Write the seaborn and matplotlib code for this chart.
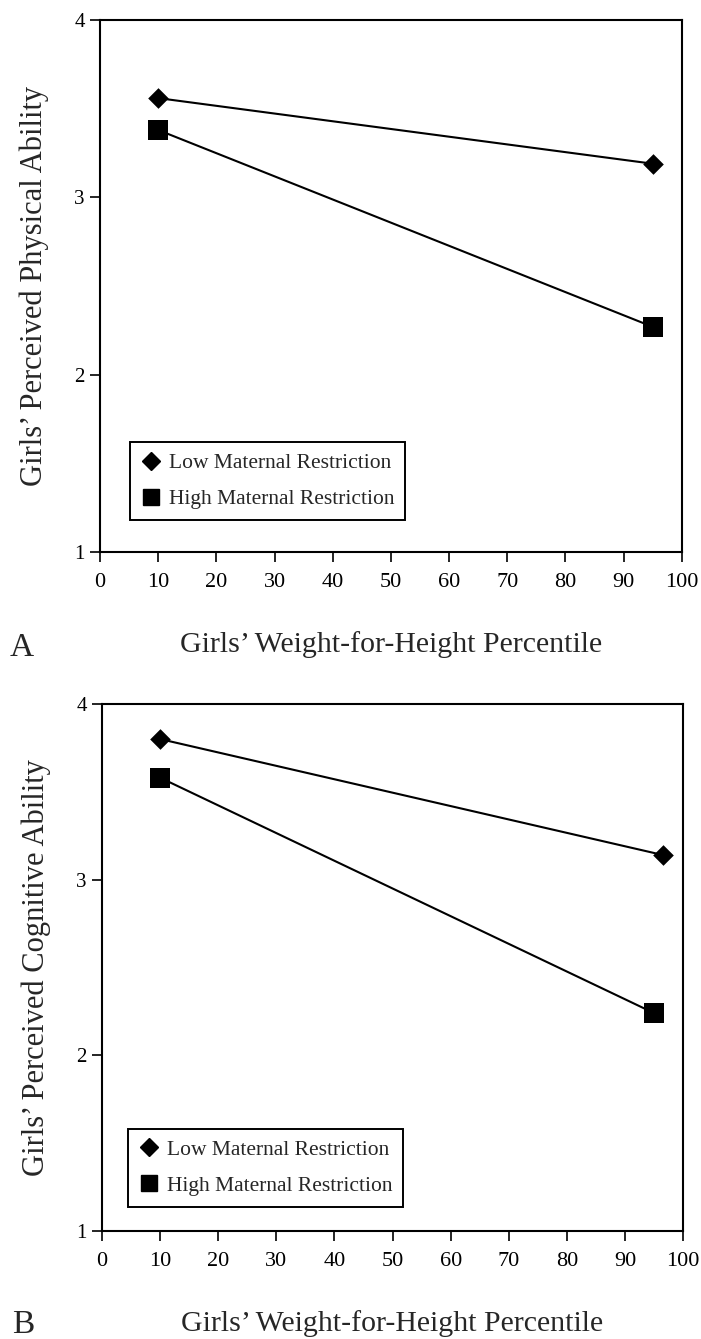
import pandas as pd
import seaborn as sns
import matplotlib.pyplot as plt
from matplotlib.lines import Line2D

# Weight-for-height percentile of each plotted group
pct_a_low = [10, 95]
pct_a_high = [10, 95]
pct_b_low = [10, 96.5]
pct_b_high = [10, 95]

# Panel A: perceived physical ability
phys_low = [3.56, 3.19]
phys_high = [3.38, 2.27]

# Panel B: perceived cognitive ability
cog_low = [3.80, 3.14]
cog_high = [3.58, 2.24]

groups = ["Low Maternal Restriction", "High Maternal Restriction"]
x_ticks = list(range(0, 101, 10))
y_ticks = [1, 2, 3, 4]

sns.set_theme(style="ticks")
plt.rcParams['font.family'] = ['Liberation Serif', 'DejaVu Serif']

markers = {groups[0]: 'D', groups[1]: 's'}
msizes = {groups[0]: 10.5, groups[1]: 14}


def make_df(x_low, y_low, x_high, y_high):
    rows = []
    for x, y in zip(x_low, y_low):
        rows.append({"pct": x, "score": y, "group": groups[0]})
    for x, y in zip(x_high, y_high):
        rows.append({"pct": x, "score": y, "group": groups[1]})
    return pd.DataFrame(rows)


def draw_panel(ax, df, ylabel, leg_anchor):
    sns.lineplot(data=df, x="pct", y="score", hue="group",
                 palette={g: "black" for g in groups}, errorbar=None,
                 linewidth=1.5, legend=False, ax=ax)
    for g in groups:
        sub = df[df["group"] == g]
        sns.scatterplot(data=sub, x="pct", y="score", marker=markers[g],
                        s=msizes[g] ** 2, color="black", edgecolor="black",
                        linewidth=0, zorder=3, legend=False, ax=ax)

    ax.set_xlim(0, 100)
    ax.set_ylim(1, 4)
    ax.set_xticks(x_ticks)
    ax.set_yticks(y_ticks)
    ax.tick_params(axis='both', direction='out', length=7, width=1.2,
                   colors='black')
    ax.tick_params(axis='x', labelsize=16, pad=8)
    ax.tick_params(axis='y', labelsize=15, pad=4)
    for sp in ax.spines.values():
        sp.set_linewidth(1.5)
        sp.set_color('black')

    ax.set_xlabel("Girls’ Weight-for-Height Percentile", fontsize=21.5,
                  labelpad=28)
    ax.set_ylabel(ylabel, fontsize=22, labelpad=18)

    handles = [Line2D([], [], marker='D', color='black', ls='none', ms=9.5),
               Line2D([], [], marker='s', color='black', ls='none', ms=11.5)]
    leg = ax.legend(handles, groups, loc='lower left',
                    bbox_to_anchor=leg_anchor, borderaxespad=0,
                    fontsize=15.5, frameon=True, fancybox=False,
                    framealpha=1, edgecolor='black', handlelength=0.9,
                    handletextpad=0.4, labelspacing=0.75, borderpad=0.5)
    leg.get_frame().set_linewidth(1.4)


fig = plt.figure(figsize=(7.01, 13.39), dpi=100)
ax_a = fig.add_axes([0.1427, 0.5877, 0.830, 0.3973])
ax_b = fig.add_axes([0.1455, 0.0807, 0.829, 0.3936])

draw_panel(ax_a, make_df(pct_a_low, phys_low, pct_a_high, phys_high),
           "Girls’ Perceived Physical Ability", (0.052, 0.06))
draw_panel(ax_b, make_df(pct_b_low, cog_low, pct_b_high, cog_high),
           "Girls’ Perceived Cognitive Ability", (0.045, 0.046))

fig.text(10 / 701, 1 - 656 / 1339, "A", fontsize=24, va='baseline')
fig.text(12 / 701, 1 - 1333 / 1339, "B", fontsize=24, va='baseline')

fig.savefig("out.png", dpi=100)
